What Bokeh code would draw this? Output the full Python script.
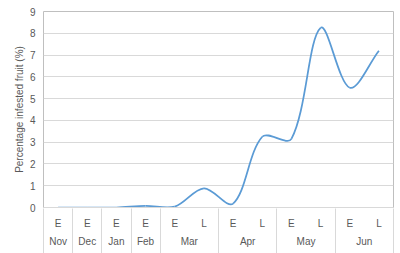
from bokeh.plotting import figure
from bokeh.models import Range1d, FixedTicker, ColumnDataSource, LinearAxis
from bokeh.embed import file_html
from bokeh.resources import INLINE

months = ["Nov", "Dec", "Jan", "Feb", "Mar", "Mar", "Apr", "Apr", "May", "May", "Jun", "Jun"]
stages = ["E", "E", "E", "E", "E", "L", "E", "L", "E", "L", "E", "L"]
values = [0.0, 0.0, 0.0, 0.08, 0.04, 0.88, 0.18, 3.25, 3.15, 8.25, 5.5, 7.2]
y_ticks = [0, 1, 2, 3, 4, 5, 6, 7, 8, 9]

FONT = "Liberation Sans"
TXT = "#595959"
W, H = 400, 253
LEFT, RIGHT, TOP, BOTTOM = 43, 7, 11, 45
n = len(values)

p = figure(width=W, height=H, output_backend="svg", toolbar_location=None,
           x_range=Range1d(0, n), y_range=Range1d(0, 9),
           min_border_left=LEFT, min_border_right=RIGHT, min_border_top=TOP, min_border_bottom=BOTTOM,
           x_axis_location=None)
p.outline_line_color = "#bfbfbf"
p.outline_line_width = 1
p.background_fill_color = "white"
p.border_fill_color = "white"

# y axis
yax = p.yaxis[0]
yax.ticker = FixedTicker(ticks=y_ticks)
yax.axis_line_color = None
yax.major_tick_line_color = None
yax.major_tick_out = 0
yax.major_tick_in = 0
yax.minor_tick_line_color = None
yax.minor_tick_out = 0
yax.major_label_text_font = FONT
yax.major_label_text_font_size = "10px"
yax.major_label_text_color = TXT
yax.axis_label = "Percentage infested fruit (%)"
yax.axis_label_text_font = FONT
yax.axis_label_text_font_size = "10px"
yax.axis_label_text_font_style = "normal"
yax.axis_label_text_color = TXT
yax.axis_label_standoff = 2
yax.major_label_standoff = 8

p.xgrid.visible = False
p.ygrid.ticker = FixedTicker(ticks=y_ticks)
p.ygrid.grid_line_color = "#d9d9d9"


def plain_axis(ticker, standoff):
    ax = LinearAxis(ticker=ticker)
    ax.axis_line_color = None
    ax.major_tick_line_color = None
    ax.major_tick_out = 0
    ax.major_tick_in = 0
    ax.minor_tick_line_color = None
    ax.minor_tick_out = 0
    ax.minor_tick_in = 0
    ax.major_label_standoff = standoff
    ax.major_label_text_font = FONT
    ax.major_label_text_font_size = "10px"
    ax.major_label_text_color = TXT
    return ax


# first level of the category axis: E / L
centers = [i + 0.5 for i in range(n)]
stage_axis = plain_axis(FixedTicker(ticks=centers, minor_ticks=[]), 10)
stage_axis.major_label_overrides = {float(c): s for c, s in zip(centers, stages)}
stage_axis.axis_line_color = "#d9d9d9"
p.add_layout(stage_axis, "below")

# second level: months
edges = [0]
for i in range(1, n):
    if months[i] != months[i - 1]:
        edges.append(i)
edges.append(n)
month_names = [months[e] for e in edges[:-1]]
month_centers = [(a + b) / 2 for a, b in zip(edges[:-1], edges[1:])]
month_axis = plain_axis(FixedTicker(ticks=month_centers, minor_ticks=[]), 4)
month_axis.major_label_overrides = {float(c): m for c, m in zip(month_centers, month_names)}
p.add_layout(month_axis, "below")

# group separators: inward minor ticks of a label-less axis at the bottom
sep_axis = plain_axis(FixedTicker(ticks=[], minor_ticks=edges), 0)
sep_axis.minor_tick_line_color = "#d9d9d9"
sep_axis.minor_tick_in = 41
sep_axis.minor_tick_out = 4
p.add_layout(sep_axis, "below")

# smooth line (Excel-like): cubic bezier segments with chord-length-weighted control points
fw = W - LEFT - RIGHT
fh = H - TOP - BOTTOM
sx = fw / n
sy = fh / 9.0


def chord(i, j):
    return (((centers[j] - centers[i]) * sx) ** 2 + ((values[j] - values[i]) * sy) ** 2) ** 0.5


x0, y0, x1, y1, cx0, cy0, cx1, cy1 = [], [], [], [], [], [], [], []
for i in range(n - 1):
    ip = max(i - 1, 0)
    inn = min(i + 2, n - 1)
    d_prev = chord(ip, i)
    d_cur = chord(i, i + 1)
    d_next = chord(i + 1, inn)
    f0 = d_cur / (3 * (d_prev + d_cur)) if d_prev + d_cur > 0 else 0
    f1 = d_cur / (3 * (d_cur + d_next)) if d_cur + d_next > 0 else 0
    x0.append(centers[i]); y0.append(values[i])
    x1.append(centers[i + 1]); y1.append(values[i + 1])
    cx0.append(centers[i] + (centers[i + 1] - centers[ip]) * f0)
    cy0.append(values[i] + (values[i + 1] - values[ip]) * f0)
    cx1.append(centers[i + 1] - (centers[inn] - centers[i]) * f1)
    cy1.append(values[i + 1] - (values[inn] - values[i]) * f1)
src = ColumnDataSource(dict(x0=x0, y0=y0, x1=x1, y1=y1, cx0=cx0, cy0=cy0, cx1=cx1, cy1=cy1))
p.bezier(x0="x0", y0="y0", x1="x1", y1="y1", cx0="cx0", cy0="cy0", cx1="cx1", cy1="cy1",
         source=src, line_color="#5b9bd5", line_width=1.75)

open("out.html", "w").write(file_html(p, INLINE))
